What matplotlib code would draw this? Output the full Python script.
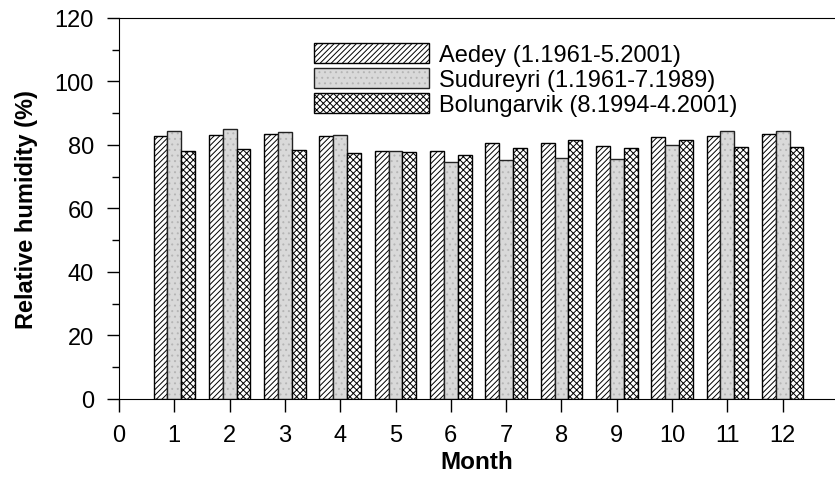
import matplotlib.pyplot as plt
import numpy as np

plt.rcParams['font.family'] = ['Liberation Sans', 'DejaVu Sans']
plt.rcParams['hatch.linewidth'] = 0.7

# monthly mean relative humidity (%)
months = np.arange(1, 13)
aedey = [82.9, 83.1, 83.5, 82.7, 78.1, 78.0, 80.6, 80.6, 79.7, 82.4, 82.7, 83.4]
sudureyri = [84.3, 84.9, 84.2, 83.2, 78.2, 74.5, 75.2, 75.8, 75.5, 80.0, 84.3, 84.5]
bolungarvik = [78.2, 78.7, 78.5, 77.4, 77.7, 76.7, 79.1, 81.5, 79.0, 81.6, 79.3, 79.5]
labels = ['Aedey (1.1961-5.2001)', 'Sudureyri (1.1961-7.1989)',
          'Bolungarvik (8.1994-4.2001)']

fig = plt.figure(figsize=(8.35, 4.81), dpi=100)
ax = fig.add_axes([0.1425, 0.1684, 0.8565, 0.7921])

w = 0.25
b1 = ax.bar(months - w, aedey, w, color='white', edgecolor='black', hatch='//////',
            linewidth=1)
# gray bars: faint dotted fill, then a dark outline on top
b2 = ax.bar(months, sudureyri, w, color='#d9d9d9', edgecolor='#b5b5b5', hatch='...',
            linewidth=0)
b2o = ax.bar(months, sudureyri, w, fill=False, edgecolor='#222222', linewidth=1)
b3 = ax.bar(months + w, bolungarvik, w, color='white', edgecolor='black', hatch='xxxxx',
            linewidth=1)

ax.set_xlim(0, 12.93)
ax.set_ylim(0, 120)
ax.set_xticks(range(0, 13))
ax.set_yticks(range(0, 121, 20))
ax.set_yticks(range(10, 120, 20), minor=True)
ax.tick_params(axis='both', which='major', direction='out', length=9, width=1,
               labelsize=17, pad=9)
ax.tick_params(axis='y', which='minor', direction='out', length=5, width=1)
ax.spines['right'].set_visible(False)

ax.set_xlabel('Month', fontsize=17.5, fontweight='bold', labelpad=3)
ax.set_ylabel('Relative humidity (%)', fontsize=17, fontweight='bold', labelpad=12)

ax.legend([b1[0], (b2[0], b2o[0]), b3[0]], labels,
          loc='upper left', bbox_to_anchor=(0.2556, 0.965), frameon=False,
          fontsize=17, handlelength=4.9, handleheight=0.93,
          labelspacing=0.08, handletextpad=0.4, borderpad=0)

fig.savefig('out.png', dpi=100)
